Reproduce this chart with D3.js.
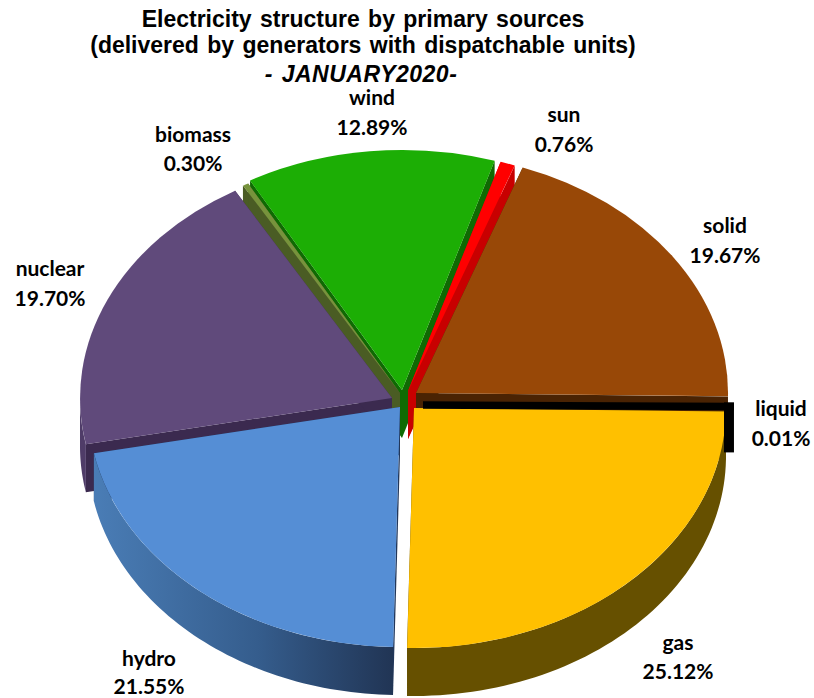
<!DOCTYPE html>
<html>
<head>
<meta charset="utf-8">
<style>
html,body{margin:0;padding:0;background:#fff}
svg{display:block}
.t{font-family:"Liberation Sans",Arial,sans-serif;font-weight:700;font-size:23px;fill:#000;text-anchor:middle;word-spacing:2px}
.l{font-family:Lato,"Open Sans",sans-serif;font-weight:700;font-size:21px;fill:#000;text-anchor:middle}
</style>
</head>
<body>
<svg id="c" width="814" height="698"></svg>
<script src="https://cdnjs.cloudflare.com/ajax/libs/d3/7.8.5/d3.min.js"></script>
<script>
const categories=["solid","liquid","gas","hydro","nuclear","biomass","wind","sun"];
const values=[19.67,0.01,25.12,21.55,19.70,0.30,12.89,0.76];
const labels=["19.67%","0.01%","25.12%","21.55%","19.70%","0.30%","12.89%","0.76%"];
const titleLines=["Electricity structure by primary sources","(delivered by generators with dispatchable units)","- JANUARY2020-"];

const faceColors={solid:"#984807",liquid:"#000000",gas:"#ffc000",hydro:"#558ed5",nuclear:"#604a7b",biomass:"#77933c",wind:"#1cae05",sun:"#ff0000"};
const sideColors={solid:"#4a2303",liquid:"#000000",gas:"#665000",hydro:"#22375a",nuclear:"#3b2a4f",biomass:"#4a5c24",wind:"#0f6a03",sun:"#c80000"};
const apex={solid:[416,393],liquid:[417,402],gas:[414,408],hydro:[400,407],nuclear:[392,398],biomass:[400,393],wind:[402,390],sun:[408,391]};
const labelPos={solid:[725,233,30],liquid:[781,416,30],gas:[678,650,29],hydro:[149,666,28],nuclear:[50,276,30],biomass:[193,142,29],wind:[372,105,30],sun:[564,122,30]};
const drawOrder=["wind","biomass","sun","solid","nuclear","hydro","gas"];
const RX=312,RY=240,DEPTH=48,START=20;
const rad=d=>d*Math.PI/180;

const svg=d3.select("#c");
const defs=svg.append("defs");
const hg=defs.append("linearGradient").attr("id","hydroWall").attr("gradientUnits","userSpaceOnUse")
  .attr("x1",93).attr("x2",392).attr("y1",0).attr("y2",0);
hg.append("stop").attr("offset",0).attr("stop-color","#4a7db6");
hg.append("stop").attr("offset",0.55).attr("stop-color","#355d8d");
hg.append("stop").attr("offset",1).attr("stop-color","#213555");

const pie=d3.pie().sort(null).startAngle(rad(START)).endAngle(rad(START+360));
const arcs=pie(values);
const byName=new Map(categories.map((c,i)=>[c,arcs[i]]));
const face=d3.arc().innerRadius(0).outerRadius(1);
const line=d3.line();
const pt=(n,a)=>[apex[n][0]+RX*Math.sin(a),apex[n][1]-RY*Math.cos(a)];

function radialWall(n,a){
  const p=pt(n,a),c=apex[n];
  return line([c,p,[p[0],p[1]+DEPTH],[c[0],c[1]+DEPTH]])+"Z";
}
function outerWall(n,a0,a1){
  const lo=Math.max(a0,rad(90)),hi=Math.min(a1,rad(270));
  if(hi<=lo)return null;
  const steps=d3.range(0,61).map(i=>lo+(hi-lo)*i/60);
  const top=steps.map(a=>pt(n,a));
  const bot=steps.slice().reverse().map(a=>{const p=pt(n,a);return [p[0],p[1]+DEPTH];});
  return line(top.concat(bot))+"Z";
}

drawOrder.forEach(n=>{
  const d=byName.get(n);
  const g=svg.append("g").attr("class","slice-"+n);
  const side=sideColors[n];
  g.append("path").attr("d",radialWall(n,d.startAngle)).attr("fill",side);
  g.append("path").attr("d",radialWall(n,d.endAngle)).attr("fill",side);
  const w=outerWall(n,d.startAngle,d.endAngle);
  if(w)g.append("path").attr("d",w).attr("fill",n==="hydro"?"url(#hydroWall)":(n==="nuclear"?"#4f3c68":side));
  g.append("path")
    .attr("transform",`translate(${apex[n][0]},${apex[n][1]}) scale(${RX},${RY})`)
    .attr("d",face(d)).attr("fill",faceColors[n]);
});

// the near-zero "liquid" slice is drawn as a thick black outline with its end wall
const lq=byName.get("liquid");
const lqEnd=pt("liquid",lq.startAngle);
svg.append("path").attr("d",line([[apex.liquid[0]+6,apex.liquid[1]+3],[lqEnd[0]+5,lqEnd[1]+1]]))
  .attr("stroke",faceColors.liquid).attr("stroke-width",7.5).attr("fill","none");
svg.append("path").attr("d",line([[lqEnd[0],lqEnd[1]-3],[lqEnd[0],lqEnd[1]+DEPTH-1]]))
  .attr("stroke",faceColors.liquid).attr("stroke-width",10).attr("fill","none");

// title
const titleY=[27,53,82];
titleLines.forEach((s,i)=>{
  svg.append("text").attr("class","t").attr("x",i===2?361:363).attr("y",titleY[i])
    .style("font-style",i===2?"italic":"normal")
    .style("letter-spacing",i===2?"0.5px":null).text(s);
});

// labels
categories.forEach((c,i)=>{
  const [x,y,gap]=labelPos[c];
  svg.append("text").attr("class","l").attr("x",x).attr("y",y).text(c);
  svg.append("text").attr("class","l").attr("x",x).attr("y",y+gap).text(labels[i]);
});
</script>
</body>
</html>
